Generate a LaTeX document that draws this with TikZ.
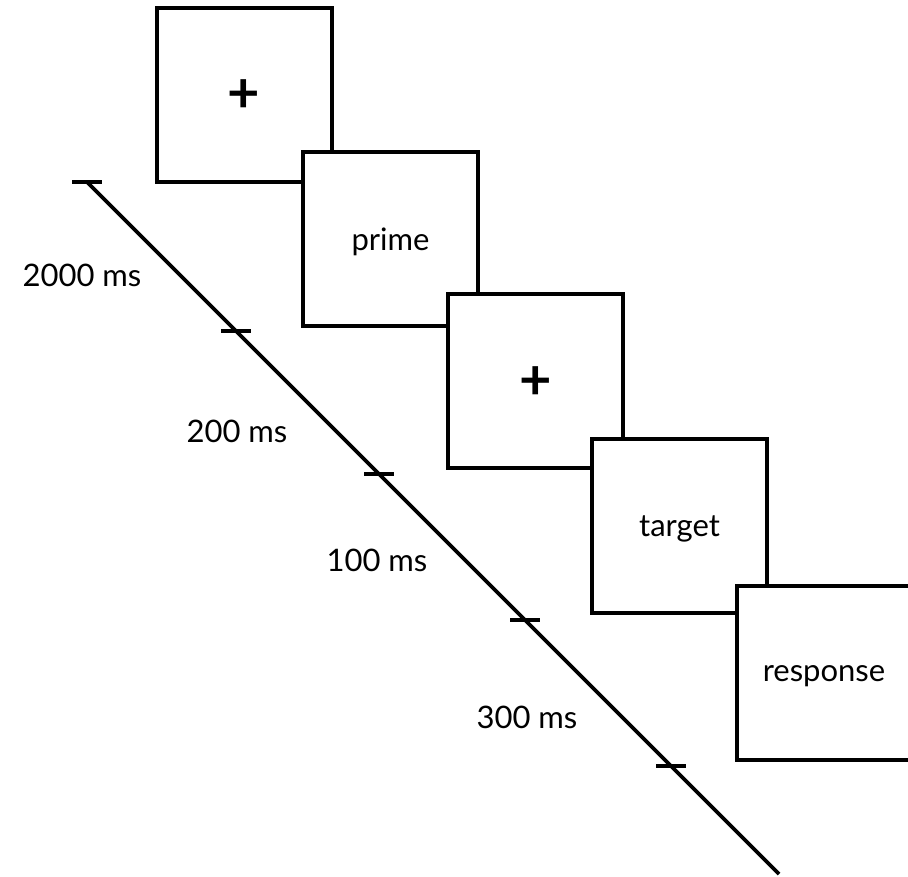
\documentclass[tikz,border=0pt]{standalone}
\usepackage{fontspec}
\setmainfont{Lato}
\begin{document}
\begin{tikzpicture}[x=1pt,y=-1pt,
  screen/.style={draw=black, fill=white, line width=4pt,
    minimum width=175pt, minimum height=174pt, inner sep=0pt,
    font=\fontsize{31}{36}\selectfont},
  label/.style={font=\fontsize{31}{36}\selectfont, inner sep=0pt},
  fix/.style={font=\fontsize{56}{56}\bfseries\selectfont, inner sep=0pt},
  dur/.style={font=\fontsize{31}{36}\selectfont, inner sep=0pt},
  axis/.style={line width=3.6pt},
  tick/.style={line width=3.4pt}]
\useasboundingbox (0,0) rectangle (908,876);
\clip (0,0) rectangle (908,876);

% trial sequence of screens, each one overlapping the previous
\node[screen] (s1) at (244,94.5) {};
\node[fix] (f1) at ([yshift=-2pt]s1.center) {+};
\node[screen] (s2) at (390.5,238.5) {};
\node[label] (l2) at ([yshift=-3pt]s2.center) {prime};
\node[screen] (s3) at (535.5,381) {};
\node[fix] (f2) at ([yshift=-2pt]s3.center) {+};
\node[screen] (s4) at (679.5,525.5) {};
\node[label] (l4) at ([yshift=-3pt]s4.center) {target};
\node[screen] (s5) at (824,673) {};
\node[label] (l5) at ([yshift=-3pt]s5.center) {response};

% time axis with tick marks
\coordinate (t0) at (87,182);
\coordinate (t1) at (236,331);
\coordinate (t2) at (379,474);
\coordinate (t3) at (525,620);
\coordinate (t4) at (671,766);
\coordinate (tend) at (779,874);
\draw[axis] (t0) -- (tend);
\foreach \t in {t0,t1,t2,t3,t4}
  \draw[tick] (\t) ++(-15,0) -- ++(30,0);

% durations of each interval
\node[dur] (d1) at (82,275) {2000 ms};
\node[dur] (d2) at (237,431) {200 ms};
\node[dur] (d3) at (377,560) {100 ms};
\node[dur] (d4) at (527,717) {300 ms};
\end{tikzpicture}
\end{document}
